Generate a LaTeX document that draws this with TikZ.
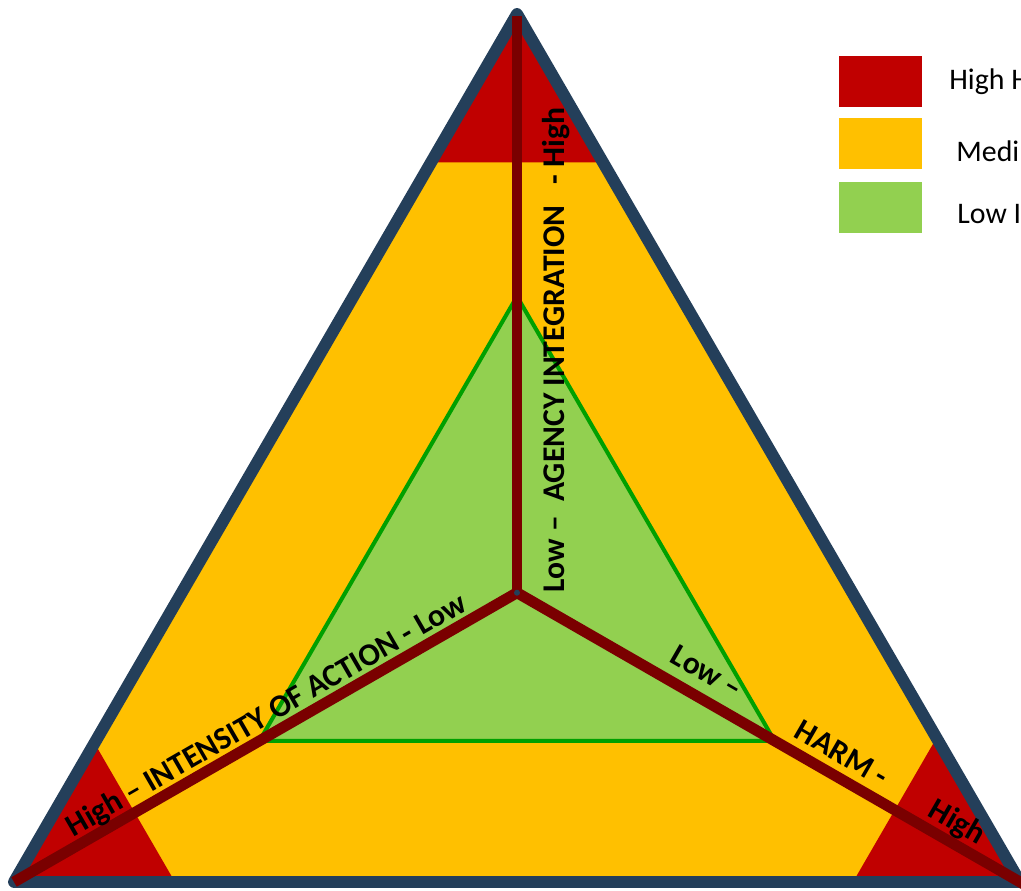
\documentclass[tikz,border=0pt]{standalone}
\usepackage{fontspec}
\setmainfont{Carlito}
\usepackage{tikz}
\usetikzlibrary{calc,positioning}

\definecolor{riskred}{RGB}{192,0,0}
\definecolor{riskyellow}{RGB}{255,192,0}
\definecolor{riskgreen}{RGB}{146,208,80}
\definecolor{edgegreen}{RGB}{0,160,0}
\definecolor{edgeblue}{RGB}{36,63,90}
\definecolor{rodred}{RGB}{122,0,0}

\begin{document}
\begin{tikzpicture}[x=0.02cm,y=-0.02cm]
  \tikzstyle{axislabel}=[font=\fontsize{18}{21}\selectfont\bfseries,inner sep=0pt]
  \tikzstyle{legendbox}=[minimum width=1.66cm,minimum height=1.02cm,inner sep=0pt,anchor=north west]
  \tikzstyle{legendtext}=[font=\fontsize{17}{20}\selectfont,inner sep=0pt,anchor=west]
  \tikzstyle{rod}=[draw=rodred,line width=6.2pt]

  \useasboundingbox (0,0) rectangle (1021,890);

  \coordinate (A) at (517,14);
  \coordinate (B) at (14,882);
  \coordinate (C) at (1020,882);
  \coordinate (O) at (517,592.7);

  % zones
  \fill[riskyellow] (A) -- (B) -- (C) -- cycle;
  \fill[riskred] (A) -- ($(A)!0.171!(B)$) -- ($(A)!0.171!(C)$) -- cycle;
  \fill[riskred] (B) -- ($(B)!0.16!(A)$) -- ($(B)!0.16!(C)$) -- cycle;
  \fill[riskred] (C) -- ($(C)!0.166!(A)$) -- ($(C)!0.166!(B)$) -- cycle;
  \draw[draw=edgegreen,fill=riskgreen,line width=2.3pt]
    ($(O)!0.512!(A)$) -- ($(O)!0.512!(B)$) -- ($(O)!0.512!(C)$) -- cycle;
  \draw[draw=edgeblue,line width=6.8pt,line join=round] (A) -- (B) -- (C) -- cycle;

  % axes
  \coordinate (topend) at (517,16);
  \path[rod] (O) -- (topend);
  \path[rod] (O) -- (B);
  \path[rod] (O) -- ($(O)!1.01!(C)$);
  \fill[edgeblue] (O) circle (3);

  \node[axislabel,rotate=90] (agency) at (556,350) {Low --\ \ AGENCY INTEGRATION\ \ \ - High};
  \node[axislabel,rotate=30] (intensity) at (267,716) {High -- INTENSITY OF ACTION - Low};
  \node[axislabel,rotate=-30] (harmlow) at (707,672) {Low --};
  \node[axislabel,rotate=-30] (harmmid) at (842,753) {HARM -};
  \node[axislabel,rotate=-30] (harmhigh) at (957,823) {High};

  % legend
  \node[legendbox,fill=riskred] (keyhigh) at (839,56) {};
  \node[legendbox,fill=riskyellow] (keymed) at (839,118) {};
  \node[legendbox,fill=riskgreen] (keylow) at (839,182) {};
  \node[legendtext] (txthigh) at (949,82) {High H};
  \node[legendtext] (txtmed) at (956,151) {Medi};
  \node[legendtext] (txtlow) at (957,214) {Low I};
\end{tikzpicture}
\end{document}
